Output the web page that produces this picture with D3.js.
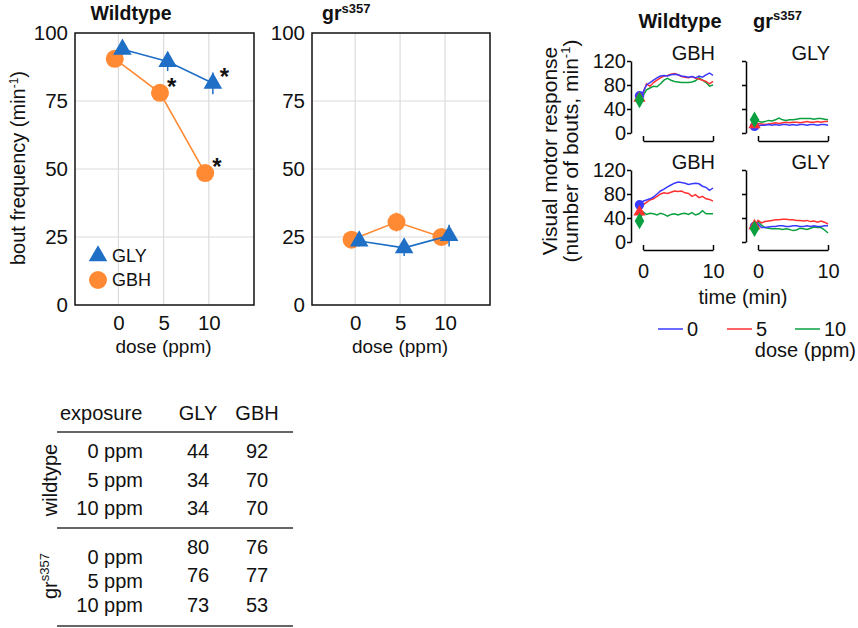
<!DOCTYPE html>
<html><head><meta charset="utf-8">
<script src="https://cdn.jsdelivr.net/npm/d3@7"></script>
<style>
body{margin:0;background:#fff}
text{font-family:"Liberation Sans",Arial,sans-serif;fill:#111}
</style>
</head><body>
<svg id="c" width="858" height="628"></svg>
<script>
// ---------- Data: bout frequency vs dose ----------
const doses = [0, 5, 10];
const doseTicks = [0, 5, 10];
const freqTicks = [0, 25, 50, 75, 100];
const wtGLY = [94, 89.5, 81.5];
const wtGLYerr = [2, 3.5, 4];
const wtGLYsig = [false, false, true];
const wtGBH = [90.5, 78, 48.5];
const wtGBHerr = [2, 2, 2];
const wtGBHsig = [false, true, true];
const grGLY = [23.5, 21, 25.5];
const grGLYerr = [2, 3, 4];
const grGBH = [24, 30.5, 25];
const grGBHerr = [2, 3.5, 2];
const noSig = [false, false, false];

// ---------- Data: visual motor response time series ----------
const tsTime = [-0.5, 0, 0.5, 1, 1.5, 2, 2.5, 3, 3.5, 4, 4.5, 5, 5.5, 6, 6.5, 7, 7.5, 8, 8.5, 9, 9.5, 10];
const vmrTicks = [0, 40, 80, 120];
const timeTicks = [0, 10];
const doseLevels = ["0", "5", "10"];
// Wildtype, top row (GBH)
const wtTop0  = [62, 68, 80, 84, 88, 92, 95, 96, 95, 97, 98, 97, 95, 94, 93, 94, 92, 95, 93, 97, 100, 96];
const wtTop5  = [58, 66, 82, 78, 84, 88, 92, 95, 96, 98, 99, 97, 94, 93, 92, 94, 91, 90, 88, 86, 82, 86];
const wtTop10 = [55, 62, 72, 75, 78, 77, 82, 88, 91, 88, 86, 85, 84, 84, 84, 85, 87, 92, 88, 84, 78, 80];
// Wildtype, bottom row (GBH)
const wtBot0  = [62, 68, 70, 72, 75, 80, 85, 88, 92, 95, 98, 100, 99, 98, 96, 97, 98, 97, 93, 91, 86, 90];
const wtBot5  = [50, 62, 66, 70, 72, 76, 80, 82, 81, 83, 85, 84, 85, 82, 81, 76, 79, 74, 76, 72, 71, 68];
const wtBot10 = [35, 50, 46, 48, 47, 45, 48, 46, 43, 46, 47, 45, 47, 48, 46, 49, 45, 47, 52, 47, 47, 47];
// gr s357, top row (GLY)
const grTop0  = [11, 12, 13, 13, 14, 13, 14, 13, 14, 14, 13, 14, 13, 14, 14, 13, 14, 14, 13, 14, 14, 13];
const grTop5  = [14, 16, 15, 14, 15, 16, 17, 16, 17, 18, 17, 18, 18, 17, 18, 19, 18, 18, 19, 18, 19, 19];
const grTop10 = [22, 20, 18, 19, 21, 20, 22, 25, 22, 21, 22, 22, 23, 24, 24, 24, 24, 23, 24, 24, 23, 22];
// gr s357, bottom row (GLY)
const grBot0  = [26, 30, 24, 24, 25, 26, 26, 27, 27, 26, 26, 27, 27, 26, 26, 27, 26, 27, 26, 26, 27, 27];
const grBot5  = [27, 36, 32, 34, 35, 36, 37, 37, 38, 38, 37, 37, 36, 36, 35, 36, 34, 35, 33, 35, 33, 30];
const grBot10 = [22, 34, 28, 24, 23, 22, 22, 22, 21, 22, 21, 19, 20, 23, 22, 21, 23, 25, 24, 24, 20, 15];

// ---------- Data: table ----------
const tblHeader = ["exposure", "GLY", "GBH"];
const tblDose = ["0 ppm", "5 ppm", "10 ppm"];
const tblWtGLY = [44, 34, 34];
const tblWtGBH = [92, 70, 70];
const tblGrGLY = [80, 76, 73];
const tblGrGBH = [76, 77, 53];

// ---------- Styles ----------
const BLUE = "#1f6fc6", ORANGE = "#ff8a33";
const TS_COL = {"0": "#3a3aff", "5": "#ff3030", "10": "#0aa040"};
const FONT = "Liberation Sans, Arial, sans-serif";

const svg = d3.select("#c");
svg.append("rect").attr("width", 858).attr("height", 628).attr("fill", "#fff");

// ---------- Dose-response panels ----------
function dosePanel(x0, x1, title, sup, gly, glyErr, glySig, gbh, gbhErr, gbhSig, legend, titleX) {
  const x = d3.scaleLinear().domain([-4.8, 15]).range([x0, x1]);
  const y = d3.scaleLinear().domain([0, 100]).range([305, 33]);
  const g = svg.append("g");
  g.selectAll(".vg").data(doseTicks).join("line")
    .attr("x1", d => x(d)).attr("x2", d => x(d)).attr("y1", y(100)).attr("y2", y(0))
    .attr("stroke", "#dcdcdc").attr("stroke-width", 1.2);
  g.selectAll(".hg").data(freqTicks.slice(1, -1)).join("line")
    .attr("x1", x0).attr("x2", x1).attr("y1", d => y(d)).attr("y2", d => y(d))
    .attr("stroke", "#dcdcdc").attr("stroke-width", 1.2);
  g.append("rect").attr("x", x0).attr("y", y(100)).attr("width", x1 - x0).attr("height", y(0) - y(100))
    .attr("fill", "none").attr("stroke", "#111").attr("stroke-width", 1.5);
  const ya = g.append("g").attr("transform", `translate(${x0},0)`)
    .call(d3.axisLeft(y).tickValues(freqTicks).tickSize(0).tickPadding(7));
  ya.select(".domain").remove();
  ya.selectAll("text").attr("font-size", 20.5).attr("font-family", FONT).attr("fill", "#111");
  const xa = g.append("g").attr("transform", `translate(0,${y(0)})`)
    .call(d3.axisBottom(x).tickValues(doseTicks).tickSize(0).tickPadding(10));
  xa.select(".domain").remove();
  xa.selectAll("text").attr("font-size", 20.5).attr("font-family", FONT).attr("fill", "#111");
  g.append("text").attr("x", (x0 + x1) / 2 - 1).attr("y", 353).attr("text-anchor", "middle")
    .attr("font-size", 19).text("dose (ppm)");
  const t = g.append("text").attr("x", titleX).attr("y", 20).attr("font-weight", "bold").attr("font-size", 19.5);
  if (sup) {
    t.attr("text-anchor", "start");
    t.append("tspan").text(title);
    t.append("tspan").attr("dy", -7).attr("font-size", 13).text(sup);
  } else {
    t.attr("text-anchor", "middle").text(title);
  }
  const series = [
    {vals: gbh, err: gbhErr, sig: gbhSig, col: ORANGE, off: -0.4, shape: "circle"},
    {vals: gly, err: glyErr, sig: glySig, col: BLUE, off: 0.45, shape: "tri"}
  ];
  const line = d3.line().x(d => x(d[0])).y(d => y(d[1]));
  series.forEach(s => {
    const pts = doses.map((d, i) => [d + s.off, s.vals[i]]);
    g.append("path").attr("d", line(pts)).attr("fill", "none").attr("stroke", s.col).attr("stroke-width", 1.6);
    pts.forEach((p, i) => {
      g.append("line").attr("x1", x(p[0])).attr("x2", x(p[0]))
        .attr("y1", y(p[1] - s.err[i])).attr("y2", y(p[1] + s.err[i]))
        .attr("stroke", s.col).attr("stroke-width", 1.5);
    });
    if (s.shape === "circle") {
      g.selectAll(null).data(pts).join("circle")
        .attr("cx", d => x(d[0])).attr("cy", d => y(d[1])).attr("r", 9).attr("fill", s.col);
    } else {
      g.selectAll(null).data(pts).join("path")
        .attr("d", d3.symbol().type(d3.symbolTriangle).size(150))
        .attr("transform", d => `translate(${x(d[0])},${y(d[1])})`).attr("fill", s.col);
    }
    pts.forEach((p, i) => {
      if (s.sig[i]) {
        g.append("text").attr("x", x(p[0]) + 7).attr("y", y(p[1]) + 2)
          .attr("font-size", 24).attr("font-weight", "bold").text("*");
      }
    });
  });
  if (legend) {
    g.append("path").attr("d", d3.symbol().type(d3.symbolTriangle).size(150)())
      .attr("transform", "translate(98,256)").attr("fill", BLUE);
    g.append("text").attr("x", 112).attr("y", 262).attr("font-size", 18).text("GLY");
    g.append("circle").attr("cx", 98).attr("cy", 280).attr("r", 9).attr("fill", ORANGE);
    g.append("text").attr("x", 112).attr("y", 286).attr("font-size", 18).text("GBH");
  }
}

dosePanel(75, 254, "Wildtype", null, wtGLY, wtGLYerr, wtGLYsig, wtGBH, wtGBHerr, wtGBHsig, true, 131);
dosePanel(312, 490, "gr", "s357", grGLY, grGLYerr, noSig, grGBH, grGBHerr, noSig, false, 322);

{
  const t = svg.append("text").attr("transform", "translate(25,168) rotate(-90)")
    .attr("text-anchor", "middle").attr("font-size", 20);
  t.append("tspan").text("bout frequency (min");
  t.append("tspan").attr("dy", -7).attr("font-size", 12).text("-1");
  t.append("tspan").attr("dy", 7).text(")");
}

// ---------- Time-series small multiples ----------
function tsPanel(tx0, y0px, y120px, title, s0, s5, s10, showYLabels, showXLabels) {
  const x = d3.scaleLinear().domain([0, 10]).range([tx0, tx0 + 70]);
  const y = d3.scaleLinear().domain([0, 120]).range([y0px, y120px]);
  const g = svg.append("g");
  const axX = tx0 - 12;
  const ya = g.append("g").attr("transform", `translate(${axX},0)`)
    .call(d3.axisLeft(y).tickValues(vmrTicks).tickSize(4).tickPadding(1).tickSizeOuter(0)
      .tickFormat(showYLabels ? d3.format("d") : () => ""));
  ya.select(".domain").attr("stroke-width", 1.5);
  ya.selectAll("line").attr("stroke-width", 1.5);
  ya.selectAll("text").attr("font-size", 20).attr("font-family", FONT).attr("fill", "#111");
  const xa = g.append("g").attr("transform", `translate(0,${y0px + 8})`)
    .call(d3.axisBottom(x).tickValues(timeTicks).tickSize(-5).tickSizeOuter(0).tickPadding(14)
      .tickFormat(showXLabels ? d3.format("d") : () => ""));
  xa.select(".domain").attr("stroke-width", 1.5);
  xa.selectAll("line").attr("stroke-width", 1.5);
  xa.selectAll("text").attr("font-size", 20).attr("font-family", FONT).attr("fill", "#111");
  g.append("text").attr("x", tx0 + 72).attr("y", y120px - 1).attr("text-anchor", "end")
    .attr("font-size", 20).text(title);
  const line = d3.line().x((d, i) => x(tsTime[i])).y(d => y(d));
  const sets = [{v: s10, k: "10"}, {v: s5, k: "5"}, {v: s0, k: "0"}];
  sets.forEach(s => {
    g.append("path").attr("d", line(s.v)).attr("fill", "none")
      .attr("stroke", TS_COL[s.k]).attr("stroke-width", 1.5);
  });
  const mk = [{v: s0, k: "0", t: d3.symbolCircle, sz: 70}, {v: s5, k: "5", t: d3.symbolTriangle, sz: 65}, {v: s10, k: "10", t: d3.symbolDiamond, sz: 80}];
  mk.forEach(m => {
    g.append("path").attr("d", d3.symbol().type(m.t).size(m.sz)())
      .attr("transform", `translate(${x(tsTime[0])},${y(m.v[0])})`).attr("fill", TS_COL[m.k]);
  });
}

tsPanel(643, 133, 61, "GBH", wtTop0, wtTop5, wtTop10, true, false);
tsPanel(758, 133, 61, "GLY", grTop0, grTop5, grTop10, false, false);
tsPanel(643, 242, 170, "GBH", wtBot0, wtBot5, wtBot10, true, true);
tsPanel(758, 242, 170, "GLY", grBot0, grBot5, grBot10, false, true);

svg.append("text").attr("x", 680).attr("y", 28).attr("text-anchor", "middle")
  .attr("font-weight", "bold").attr("font-size", 20).text("Wildtype");
{
  const t = svg.append("text").attr("x", 753).attr("y", 28).attr("font-weight", "bold").attr("font-size", 20);
  t.append("tspan").text("gr");
  t.append("tspan").attr("dy", -8).attr("font-size", 13).text("s357");
}
svg.append("text").attr("transform", "translate(557,151) rotate(-90)").attr("text-anchor", "middle")
  .attr("font-size", 21).text("Visual motor response");
{
  const t = svg.append("text").attr("transform", "translate(578,151) rotate(-90)").attr("text-anchor", "middle")
    .attr("font-size", 21);
  t.append("tspan").text("(number of bouts, min");
  t.append("tspan").attr("dy", -8).attr("font-size", 13).text("-1");
  t.append("tspan").attr("dy", 8).text(")");
}
svg.append("text").attr("x", 743).attr("y", 304).attr("text-anchor", "middle").attr("font-size", 20).text("time (min)");

const legX = [658, 727, 795];
doseLevels.forEach((d, i) => {
  svg.append("line").attr("x1", legX[i]).attr("x2", legX[i] + 25).attr("y1", 329).attr("y2", 329)
    .attr("stroke", TS_COL[d]).attr("stroke-width", 1.5);
  svg.append("text").attr("x", legX[i] + 29).attr("y", 336).attr("font-size", 20).text(d);
});
svg.append("text").attr("x", 856).attr("y", 357).attr("text-anchor", "end").attr("font-size", 20).text("dose (ppm)");

// ---------- Table ----------
const tb = svg.append("g").attr("font-size", 20);
const colX = [143, 198, 257];
tb.append("text").attr("x", 60).attr("y", 420).attr("font-size", 20).text(tblHeader[0]);
tb.append("text").attr("x", colX[1]).attr("y", 420).attr("text-anchor", "middle").attr("font-size", 20).text(tblHeader[1]);
tb.append("text").attr("x", colX[2]).attr("y", 420).attr("text-anchor", "middle").attr("font-size", 20).text(tblHeader[2]);
[432, 528, 626].forEach(yy => {
  tb.append("line").attr("x1", 57).attr("x2", 293).attr("y1", yy).attr("y2", yy)
    .attr("stroke", "#333").attr("stroke-width", 1.6);
});
const wtRowY = [458, 487, 515];
const grLabY = [564, 588, 612];
const grValY = [554, 582, 612];
tblDose.forEach((d, i) => {
  tb.append("text").attr("x", colX[0]).attr("y", wtRowY[i]).attr("text-anchor", "end").attr("font-size", 20).text(d);
  tb.append("text").attr("x", colX[1]).attr("y", wtRowY[i]).attr("text-anchor", "middle").attr("font-size", 20).text(tblWtGLY[i]);
  tb.append("text").attr("x", colX[2]).attr("y", wtRowY[i]).attr("text-anchor", "middle").attr("font-size", 20).text(tblWtGBH[i]);
  tb.append("text").attr("x", colX[0]).attr("y", grLabY[i]).attr("text-anchor", "end").attr("font-size", 20).text(d);
  tb.append("text").attr("x", colX[1]).attr("y", grValY[i]).attr("text-anchor", "middle").attr("font-size", 20).text(tblGrGLY[i]);
  tb.append("text").attr("x", colX[2]).attr("y", grValY[i]).attr("text-anchor", "middle").attr("font-size", 20).text(tblGrGBH[i]);
});
tb.append("text").attr("transform", "translate(57,480) rotate(-90)").attr("text-anchor", "middle")
  .attr("font-size", 20).text("wildtype");
{
  const t = tb.append("text").attr("transform", "translate(57,576) rotate(-90)").attr("text-anchor", "middle").attr("font-size", 20);
  t.append("tspan").text("gr");
  t.append("tspan").attr("dy", -8).attr("font-size", 13).text("s357");
}
</script>
</body></html>
